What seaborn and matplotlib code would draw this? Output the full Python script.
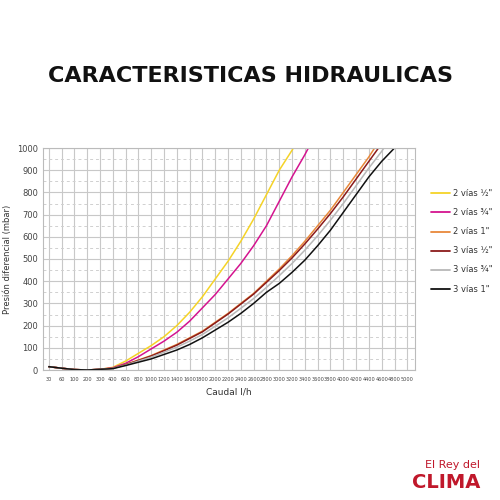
import numpy as np
import pandas as pd
import matplotlib
matplotlib.use("Agg")
import matplotlib.pyplot as plt
import seaborn as sns

caudal = ["30","60","100","200","300","400","600","800","1000","1200","1400","1600","1800","2000","2200",
          "2400","2600","2800","3000","3200","3400","3600","3800","4000","4200","4400","4600","4800","5000"]
nan = np.nan
v2_12 = [15,8,2,0,3,12,40,75,110,150,200,260,330,410,490,580,680,790,900,990,1090,nan,nan,nan,nan,nan,nan,nan,nan]
v2_34 = [15,8,2,0,3,10,30,60,95,130,170,220,280,340,410,480,560,650,760,870,970,1080,nan,nan,nan,nan,nan,nan,nan]
v2_1  = [15,8,2,0,3,8,25,45,65,90,115,145,175,215,255,300,345,400,455,515,580,650,720,800,880,960,1050,nan,nan]
v3_12 = [15,8,2,0,3,8,24,43,63,87,112,142,172,212,252,297,342,395,448,505,568,635,705,780,860,940,1020,nan,nan]
v3_34 = [15,8,2,0,3,7,22,40,58,80,103,130,160,197,235,278,322,372,425,480,540,605,675,750,830,910,985,1070,nan]
v3_1  = [15,8,2,0,3,6,20,35,50,70,90,115,145,180,215,255,300,350,390,440,495,560,630,710,790,870,940,1000,1080]

labels = ["2 vías ½\"", "2 vías ¾\"", "2 vías 1\"", "3 vías ½\"", "3 vías ¾\"", "3 vías 1\""]
colors = ["#f5d327", "#d4148f", "#e8883a", "#8b1a1a", "#b8b8b8", "#111111"]
series = [v2_12, v2_34, v2_1, v3_12, v3_34, v3_1]

rows = []
for lab, vals in zip(labels, series):
    for i, v in enumerate(vals):
        rows.append({"x": i, "y": v, "serie": lab})
df = pd.DataFrame(rows).dropna()

sns.set_style("white")
fig = plt.figure(figsize=(5, 5), dpi=100)
ax = fig.add_axes([0.086, 0.26, 0.744, 0.444])
ax.set_yticks(np.arange(50, 1000, 100), minor=True)
ax.grid(True, which="major", color="#c8c8c8", lw=0.8)
ax.grid(True, which="minor", axis="y", color="#d0d0d0", lw=0.7, ls=(0, (3, 3)))
sns.lineplot(data=df, x="x", y="y", hue="serie", palette=colors, hue_order=labels, ax=ax, lw=1.1, legend=False)
ax.set_xlim(-0.45, 28.6)
ax.set_ylim(0, 1000)
ax.set_xticks(range(len(caudal)))
ax.set_xticklabels(caudal, fontsize=3.6, color="#444")
ax.set_yticks(range(0, 1001, 100))
ax.tick_params(axis="y", labelsize=6, colors="#444", length=0)
ax.tick_params(axis="x", length=0, pad=5)
for s in ax.spines.values():
    s.set_color("#bbbbbb")
ax.set_xlabel("Caudal l/h", fontsize=6.5, color="#333")
ax.set_ylabel("Presión diferencial (mbar)", fontsize=6, color="#333")

for k, (lab, c) in enumerate(zip(labels, colors)):
    y = 0.614 - k * 0.0385
    fig.lines.append(plt.Line2D([0.862, 0.9], [y, y], color=c, lw=1.3, transform=fig.transFigure))
    fig.text(0.906, y, lab, fontsize=6, va="center", color="#333")

fig.text(0.5, 0.848, "CARACTERISTICAS HIDRAULICAS", ha="center", va="center",
         fontsize=16, fontweight="heavy", color="#111")
fig.text(0.96, 0.065, "El Rey del", ha="right", fontsize=8, color="#c0182b")
fig.text(0.96, 0.025, "CLIMA", ha="right", fontsize=14, fontweight="bold", color="#c0182b")
fig.savefig("out.png", dpi=100)
